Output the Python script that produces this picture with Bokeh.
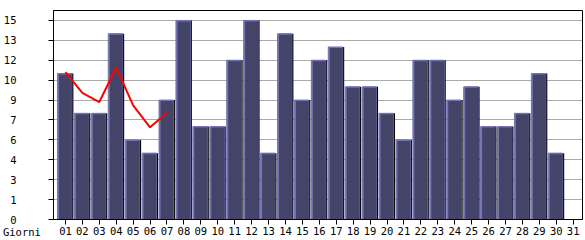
from bokeh.plotting import figure
from bokeh.models import FixedTicker, Range1d, ColumnDataSource
from bokeh.transform import dodge
from bokeh.embed import file_html
from bokeh.resources import INLINE

# --- data ---
days = list(range(1, 32))
day_labels = ["%02d" % d for d in days]
visits = [11, 8, 8, 14, 6, 5, 9, 15, 7, 7, 12, 15, 5, 14, 9, 12, 13, 10, 10, 8,
          6, 12, 12, 9, 10, 7, 7, 8, 11, 5, 0]
trend_days = [1, 2, 3, 4, 5, 6, 7]
trend_values = [11.1, 9.55, 8.85, 11.45, 8.6, 6.95, 8.05]
y_ticks = [0, 1.5, 3, 4.5, 6, 7.5, 9, 10.5, 12, 13.5, 15]
y_tick_labels = ["0", "1", "3", "4", "6", "7", "9", "10", "12", "13", "15"]
x_title = "Giorni"

FONT = "DejaVu Sans Mono"
FS = "10.5px"

p = figure(width=585, height=240, output_backend="svg", toolbar_location=None,
           x_range=Range1d(0.294, 31.55), y_range=Range1d(0, 15.75))
p.min_border_left = 51
p.min_border_right = 3
p.min_border_top = 10
p.min_border_bottom = 20
p.background_fill_color = "white"
p.border_fill_color = "white"
p.outline_line_color = "black"
p.outline_line_width = 1

src = ColumnDataSource(dict(x=days, top=visits,
                            body_top=[max(v - 0.075, 0) for v in visits]))

# shadow (right)
p.vbar(x=dodge("x", 0.045, range=p.x_range), top="top", width=0.85, source=src,
       fill_color="black", line_color=None)
# highlight (left/top)
p.vbar(x=dodge("x", -0.045, range=p.x_range), top="top", width=0.85, source=src,
       fill_color="#7272b4", line_color="#7272b4", line_width=1)
# body
p.vbar(x=dodge("x", 0.0, range=p.x_range), top="body_top", width=0.76, source=src,
       fill_color="#444468", line_color=None)

p.line(trend_days, trend_values, line_color="#ff0000", line_width=2)

# axes
p.xaxis.ticker = FixedTicker(ticks=days)
p.xaxis.major_label_overrides = {d: l for d, l in zip(days, day_labels)}
p.yaxis.ticker = FixedTicker(ticks=y_ticks)
p.yaxis.major_label_overrides = {t: l for t, l in zip(y_ticks, y_tick_labels)}
for ax in (p.xaxis[0], p.yaxis[0]):
    ax.major_tick_out = 5
    ax.major_tick_in = 0
    ax.minor_tick_line_color = None
    ax.axis_line_color = "black"
    ax.major_tick_line_color = "black"
    ax.major_label_text_font = FONT
    ax.major_label_text_font_size = FS
    ax.major_label_text_color = "black"
p.xaxis.major_label_standoff = 2
p.yaxis.major_label_text_align = "left"
p.yaxis.major_label_standoff = 32

# x-axis title on the same row as the day labels, at the far left:
# centred on the frame's left edge, padded on the right with no-break spaces
xa = p.xaxis[0]
xa.axis_label = x_title + "\u00a0" * 10
xa.axis_label_text_font = FONT
xa.axis_label_text_font_size = FS
xa.axis_label_text_font_style = "normal"
xa.axis_label_text_color = "black"
xa.axis_label_standoff = -12
if "axis_label_align" in xa.properties():
    xa.axis_label_align = "start"

p.xgrid.grid_line_color = None
p.ygrid.grid_line_color = "#aaaaaa"
p.ygrid.ticker = FixedTicker(ticks=y_ticks)

open("out.html", "w").write(file_html(p, INLINE))
